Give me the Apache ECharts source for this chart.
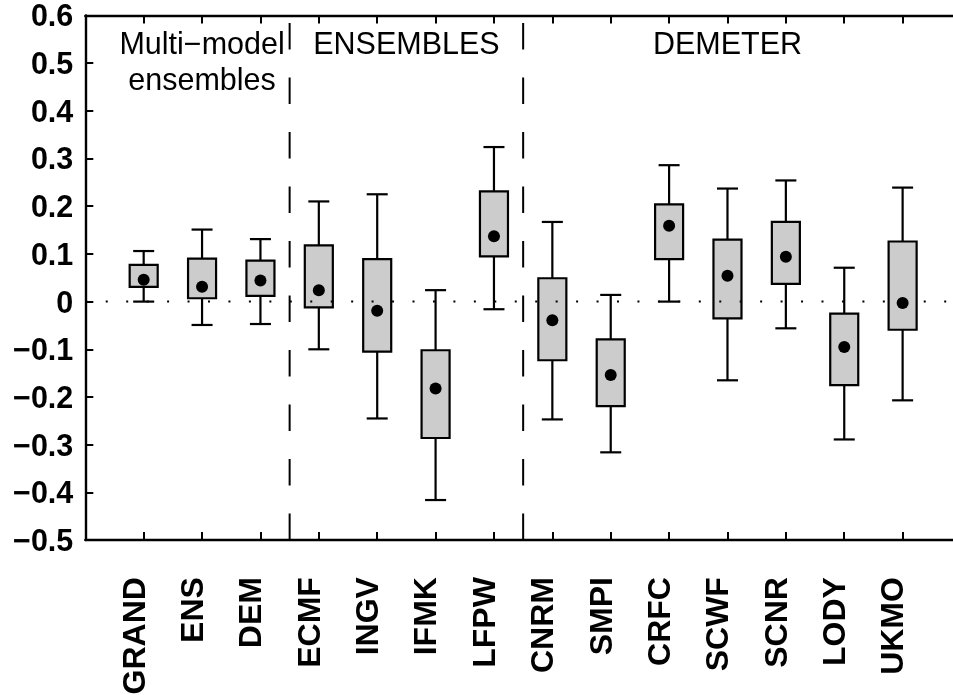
<!DOCTYPE html>
<html>
<head>
<meta charset="utf-8">
<script src="https://cdn.jsdelivr.net/npm/echarts@6/dist/echarts.min.js"></script>
<style>
  html, body { margin: 0; padding: 0; background: #ffffff; }
  #chart { width: 953px; height: 695px; }
</style>
</head>
<body>
<div id="chart"></div>
<script>
// Models, in plotting order (x = 1 .. 14)
const categories = ['GRAND', 'ENS', 'DEM', 'ECMF', 'INGV', 'IFMK', 'LFPW',
                    'CNRM', 'SMPI', 'CRFC', 'SCWF', 'SCNR', 'LODY', 'UKMO'];

// Whisker ends, box edges and central estimate for each model
const whiskerLow  = [0.000, -0.049, -0.047, -0.100, -0.245, -0.416, -0.016,
                     -0.247, -0.316, 0.000, -0.165, -0.056, -0.289, -0.207];
const boxLow      = [0.031, 0.007, 0.012, -0.012, -0.105, -0.286, 0.095,
                     -0.123, -0.219, 0.089, -0.035, 0.037, -0.175, -0.059];
const boxHigh     = [0.077, 0.090, 0.086, 0.118, 0.089, -0.102, 0.231,
                     0.049, -0.079, 0.204, 0.130, 0.167, -0.025, 0.126];
const whiskerHigh = [0.106, 0.151, 0.131, 0.210, 0.225, 0.024, 0.324,
                     0.167, 0.014, 0.286, 0.237, 0.254, 0.071, 0.239];
const centre      = [0.046, 0.031, 0.044, 0.024, -0.019, -0.182, 0.137,
                     -0.039, -0.154, 0.159, 0.054, 0.094, -0.095, -0.003];

// Group headings, the x position each is centred on, and the group boundaries
const groupNames   = ['Multi\u2212model\nensembles', 'ENSEMBLES', 'DEMETER'];
const groupLabelAt = [2, 5.5, 11];
const groupBreaks  = [3.5, 7.5];

// Reference level drawn as a dotted line
const referenceLevel = [0];

// y axis tick labels, from the bottom tick (-0.5) upwards in steps of 0.1
const yTickLabels = ['\u22120.5', '\u22120.4', '\u22120.3', '\u22120.2', '\u22120.1',
                     '0', '0.1', '0.2', '0.3', '0.4', '0.5', '0.6'];

const X_MIN = 0, X_MAX = 15;
const Y_MIN = -0.5, Y_MAX = 0.6, Y_STEP = 0.1;

const FONT = "'Liberation Sans', Arial, Helvetica, sans-serif";
const BOX_HALF = 0.24;   // half box width, x units
const CAP_HALF = 0.18;   // half whisker-cap width, x units

const boxData = categories.map((c, i) =>
  [i + 1, whiskerLow[i], boxLow[i], boxHigh[i], whiskerHigh[i]]);
const centreData = categories.map((c, i) => [i + 1, centre[i]]);

const chart = echarts.init(document.getElementById('chart'), null, { renderer: 'canvas' });

const frameLine = { show: true, onZero: false, lineStyle: { color: '#000', width: 2.4 } };
const innerTick = { show: true, inside: true, length: 8, lineStyle: { color: '#000', width: 2 } };

chart.setOption({
  animation: false,
  backgroundColor: '#ffffff',
  grid: {
    left: 85.3, top: 15.4, width: 875.7, height: 524.7,
    containLabel: false, outerBoundsMode: 'none'
  },
  xAxis: [
    {
      type: 'value', position: 'bottom', min: X_MIN, max: X_MAX, interval: 1,
      axisLine: frameLine, axisTick: innerTick, splitLine: { show: false },
      axisLabel: {
        rotate: 90, margin: 37, verticalAlign: 'bottom', lineHeight: 16,
        fontFamily: FONT, fontSize: 32, fontWeight: 'bold', color: '#000',
        formatter: v => categories[Math.round(v) - 1] || ''
      }
    },
    {
      type: 'value', position: 'top', min: X_MIN, max: X_MAX, interval: 1,
      axisLine: frameLine, axisTick: innerTick, splitLine: { show: false },
      axisLabel: { show: false }
    }
  ],
  yAxis: [
    {
      type: 'value', position: 'left', min: Y_MIN, max: Y_MAX, interval: Y_STEP,
      axisLine: frameLine, axisTick: innerTick, splitLine: { show: false },
      axisLabel: {
        margin: 12, verticalAlign: 'top', lineHeight: 5,
        fontFamily: FONT, fontSize: 30.5, fontWeight: 'bold', color: '#000',
        formatter: v => yTickLabels[Math.round((v - Y_MIN) / Y_STEP)] || ''
      }
    },
    {
      type: 'value', position: 'right', min: Y_MIN, max: Y_MAX, interval: Y_STEP,
      axisLine: frameLine, axisTick: innerTick, splitLine: { show: false },
      axisLabel: { show: false }
    }
  ],
  series: [
    {
      // dashed boundaries between the model groups
      type: 'custom', name: 'groups', z: 2, silent: true,
      data: groupBreaks.map(x => [x]),
      renderItem: (params, api) => {
        const x = api.value(0);
        const a = api.coord([x, Y_MIN]);
        const b = api.coord([x, Y_MAX]);
        return {
          type: 'line',
          shape: { x1: a[0], y1: a[1], x2: b[0], y2: b[1] },
          style: { stroke: '#000', lineWidth: 2, lineDash: [26.6, 27.9], fill: null }
        };
      }
    },
    {
      // group headings
      type: 'custom', name: 'headings', z: 2, silent: true,
      data: groupLabelAt.map((x, i) => [x, i]),
      renderItem: (params, api) => {
        const p = api.coord([api.value(0), Y_MAX]);
        return {
          type: 'text',
          style: {
            x: p[0], y: p[1] + 12.1,
            text: groupNames[api.value(1)],
            fill: '#000', font: '30.5px ' + FONT,
            align: 'center', verticalAlign: 'top', lineHeight: 36
          }
        };
      }
    },
    {
      // boxes with whiskers
      type: 'custom', name: 'boxes', z: 3, silent: true,
      data: boxData,
      renderItem: (params, api) => {
        const x = api.value(0);
        const wl = api.value(1), q1 = api.value(2), q3 = api.value(3), wh = api.value(4);
        const lo = api.coord([x, wl]);
        const hi = api.coord([x, wh]);
        const capLoL = api.coord([x - CAP_HALF, wl]);
        const capLoR = api.coord([x + CAP_HALF, wl]);
        const capHiL = api.coord([x - CAP_HALF, wh]);
        const capHiR = api.coord([x + CAP_HALF, wh]);
        const tl = api.coord([x - BOX_HALF, q3]);
        const br = api.coord([x + BOX_HALF, q1]);
        const ls = { stroke: '#000', lineWidth: 2.2, fill: null };
        return {
          type: 'group',
          children: [
            { type: 'line', shape: { x1: lo[0], y1: lo[1], x2: hi[0], y2: hi[1] }, style: ls },
            { type: 'line', shape: { x1: capLoL[0], y1: capLoL[1], x2: capLoR[0], y2: capLoR[1] }, style: ls },
            { type: 'line', shape: { x1: capHiL[0], y1: capHiL[1], x2: capHiR[0], y2: capHiR[1] }, style: ls },
            {
              type: 'rect',
              shape: { x: tl[0], y: tl[1], width: br[0] - tl[0], height: br[1] - tl[1] },
              style: { fill: '#cccccc', stroke: '#000', lineWidth: 2.2 }
            }
          ]
        };
      }
    },
    {
      // dotted reference line
      type: 'custom', name: 'reference', z: 4, silent: true,
      data: referenceLevel.map(v => [v]),
      renderItem: (params, api) => {
        const a = api.coord([X_MIN, api.value(0)]);
        const b = api.coord([X_MAX, api.value(0)]);
        return {
          type: 'line',
          shape: { x1: a[0], y1: a[1], x2: b[0], y2: b[1] },
          style: { stroke: '#000', lineWidth: 2, lineDash: [2, 18.45], fill: null }
        };
      }
    },
    {
      type: 'scatter', name: 'centre', z: 5, silent: true,
      data: centreData,
      symbol: 'circle', symbolSize: 12,
      itemStyle: { color: '#000', opacity: 1, borderWidth: 0 }
    }
  ]
});
</script>
</body>
</html>
